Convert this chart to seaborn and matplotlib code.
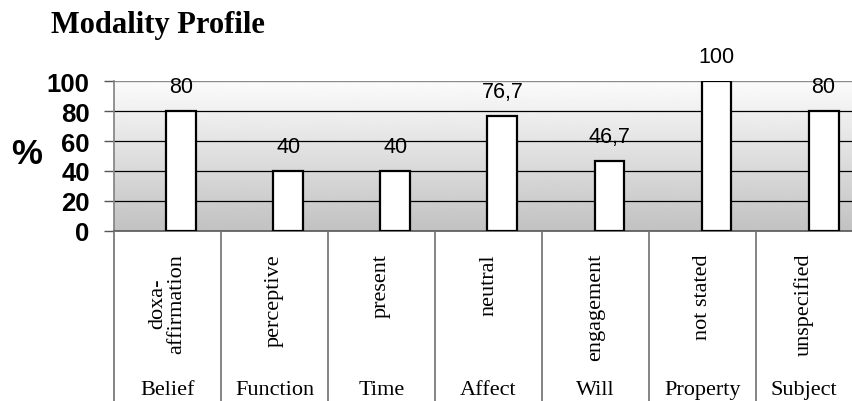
import matplotlib
matplotlib.use("Agg")
import matplotlib.pyplot as plt
import matplotlib.transforms as mtransforms
import numpy as np
import pandas as pd
import seaborn as sns

# Modality profile data
groups = ["Belief", "Function", "Time", "Affect", "Will", "Property", "Subject"]
subcategories = ["doxa-\naffirmation", "perceptive", "present", "neutral",
                 "engagement", "not stated", "unspecified"]
values = [80, 40, 40, 76.7, 46.7, 100, 80]
y_ticks = [0, 20, 40, 60, 80, 100]

df = pd.DataFrame({"group": groups, "sub": subcategories, "value": values})

sns.set_theme(style="white")
plt.rcParams["font.family"] = ["Liberation Sans", "DejaVu Sans"]
plt.rcParams["text.color"] = "black"
plt.rcParams["ytick.labelcolor"] = "black"
plt.rcParams["axes.labelcolor"] = "black"

W, H = 852, 402
fig = plt.figure(figsize=(W / 100, H / 100), dpi=100)
ax = fig.add_axes([114 / W, 170 / H, 738 / W, 150 / H])

x_left, x_right = -0.63, 6.266
ax.set_xlim(x_left, x_right)
ax.set_ylim(0, 100)

# vertical grey gradient behind the bars
grad = np.linspace(0.76, 0.985, 256).reshape(-1, 1)
ax.imshow(grad, cmap="gray", vmin=0, vmax=1, origin="lower", aspect="auto",
          extent=(x_left, x_right, 0, 100), zorder=0)

# horizontal gridlines
for t in y_ticks[1:-1]:
    ax.axhline(t, color="black", lw=0.9, zorder=1)
ax.axhline(100, color="#8c8c8c", lw=1.0, zorder=1)

sns.barplot(data=df, x="group", y="value", order=groups, width=0.28,
            color="white", edgecolor="black", linewidth=1.6, saturation=1,
            ax=ax, zorder=3)
ax.set_xlim(x_left, x_right)
ax.set_ylim(0, 100)

# value labels above bars
for i, v in enumerate(values):
    ax.annotate(f"{v:g}".replace(".", ","), xy=(i, v), xytext=(0, 13.7),
                textcoords="offset points", ha="center", va="baseline",
                fontsize=15.5, color="black", family=["Liberation Sans"],
                annotation_clip=False)

ax.set_xlabel("")
ax.set_ylabel("")
ax.set_xticks([])
ax.set_yticks(y_ticks)
ax.set_yticklabels([str(t) for t in y_ticks], fontsize=18.5, fontweight="bold",
                   family=["Liberation Sans"], color="black")
ax.tick_params(axis="y", length=7.5, width=1, color="#555555", pad=10,
               direction="out", left=True)

for s in ["top", "right"]:
    ax.spines[s].set_visible(False)
ax.spines["left"].set_color("#808080")
ax.spines["left"].set_linewidth(1.2)
ax.spines["bottom"].set_color("#555555")
ax.spines["bottom"].set_linewidth(1.2)

# category table beneath the axis
trans = mtransforms.blended_transform_factory(ax.transData, fig.transFigure)
seps = [i + 0.37 for i in range(-1, 6)]
for s in seps:
    ax.plot([s, s], [170 / H, 0], transform=trans, color="#707070", lw=1.2,
            clip_on=False, zorder=5)
edges = seps + [x_right]
for k in range(len(groups)):
    cx = (edges[k] + edges[k + 1]) / 2
    ax.text(cx, 1 - 254 / H, subcategories[k], transform=trans, rotation=90,
            ha="center", va="top", multialignment="center", fontsize=16,
            family=["Liberation Serif"], color="black", linespacing=1.0)
    ax.text(cx, 1 - 395 / H, groups[k], transform=trans, ha="center",
            va="baseline", fontsize=16, family=["Liberation Serif"],
            color="black")

fig.text(27 / W, 1 - 155 / H, "%", ha="center", va="center", fontsize=25,
         fontweight="bold", family=["Liberation Sans"], color="black")
fig.text(158 / W, 1 - 33 / H, "Modality Profile", ha="center", va="baseline",
         fontsize=22, fontweight="bold", family=["Liberation Serif"],
         color="black")

fig.savefig("out.png", dpi=100)
